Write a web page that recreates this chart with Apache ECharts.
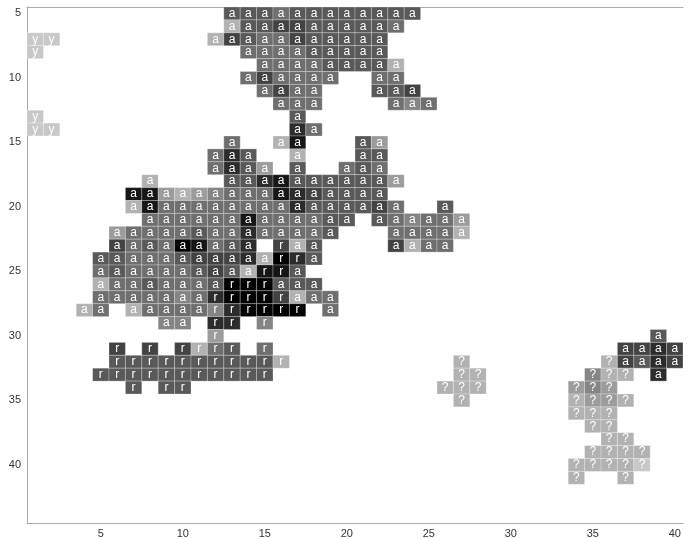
<!DOCTYPE html>
<html>
<head>
<meta charset="utf-8">
<script src="https://cdn.jsdelivr.net/npm/echarts@6.0.0/dist/echarts.min.js"></script>
<style>
html, body { margin: 0; padding: 0; background: #fff; }
#chart { width: 695px; height: 539px; }
</style>
</head>
<body>
<div id="chart"></div>
<script>
// rows start at y = 5, columns are x = 1..40
const firstRow = 5;
const letterRows = [
  '............aaaaaaaaaaaa................',
  '............aaaaaaaaaaa.................',
  'yy.........aaaaaaaaaaa..................',
  'y............aaaaaaaaa..................',
  '..............aaaaaaaaa.................',
  '.............aaaaaa..aa.................',
  '..............aaaa...aaa................',
  '...............aaa....aaa...............',
  'y...............a.......................',
  'yy..............aa......................',
  '............a..aa...aa..................',
  '...........aaa..a...aa..................',
  '...........aaaa.a..aaa..................',
  '.......a....aaaaaaaaaaa.................',
  '......aaaaaaaaaaaaaaaa..................',
  '......aaaaaaaaaaaaaaaaa..a..............',
  '.......aaaaaaaaaaaaa.aaaaaa.............',
  '.....aaaaaaaaaaaaaa...aaaaa.............',
  '.....aaaaaaaaa.raa....aaaa..............',
  '....aaaaaaaaaaarra......................',
  '....aaaaaaaaaarra.......................',
  '....aaaaaaaarrraaa......................',
  '....aaaaaaarrrrraaa.....................',
  '...aa.aaaaarrrrrr.a.....................',
  '........aa.rr.r.........................',
  '...........r..........................a.',
  '.....r.r.rrrr.r.....................aaaa',
  '.....rrrrrrrrrrr..........?........?aaaa',
  '....rrrrrrrrrrr...........??......???.a.',
  '......r.rr...............???.....???....',
  '..........................?......????...',
  '.................................???....',
  '..................................??....',
  '...................................??...',
  '..................................????..',
  '.................................?????..',
  '.................................?..?...'
];
// shade 0 = light grey ... 9 = black
const shadeRows = [
  '............555455555555................',
  '............15566555554.................',
  '00.........16544655555..................',
  '0............444455555..................',
  '..............444455551.................',
  '.............464444..44.................',
  '..............4644...556................',
  '...............444....434...............',
  '0...............5.......................',
  '00..............74......................',
  '............4..18...52..................',
  '...........475..1...55..................',
  '...........4752.5..454..................',
  '.......1....55785555552.................',
  '......8821234448765555..................',
  '......18444444447555564..5..............',
  '.......4444448444455.543442.............',
  '.....24444544744445...44441.............',
  '.....645498457.615....6144..............',
  '....55444566671975......................',
  '....4544445651885.......................',
  '....14454445999555......................',
  '....444443479996144.....................',
  '...14.14444379999.4.....................',
  '........33.77.3.........................',
  '...........2..........................5.',
  '.....6.6.6145.4.....................6676',
  '.....55555555551..........1........16576',
  '....55555555555...........11......311.7.',
  '......5.55...............111.....232....',
  '..........................1......1221...',
  '.................................111....',
  '..................................11....',
  '...................................11...',
  '..................................1111..',
  '.................................11110..',
  '.................................1..1...'
];
const xTicks = [5, 10, 15, 20, 25, 30, 35, 40];
const yTicks = [5, 10, 15, 20, 25, 30, 35, 40];

const cells = [];
letterRows.forEach(function (row, i) {
  for (let c = 0; c < row.length; c++) {
    if (row[c] === '.') continue;
    cells.push([c + 1, firstRow + i, Number(shadeRows[i][c]), row[c]]);
  }
});

function renderItem(params, api) {
  const x = api.value(0);
  const y = api.value(1);
  const p0 = api.coord([x - 0.5, y - 0.5]);
  const p1 = api.coord([x + 0.5, y + 0.5]);
  const left = Math.min(p0[0], p1[0]);
  const top = Math.min(p0[1], p1[1]);
  const w = Math.abs(p1[0] - p0[0]);
  const h = Math.abs(p1[1] - p0[1]);
  return {
    type: 'group',
    children: [
      {
        type: 'rect',
        shape: { x: left, y: top, width: w, height: h },
        style: { fill: api.visual('color'), stroke: 'rgba(255,255,255,0.25)', lineWidth: 1 }
      },
      {
        type: 'text',
        style: {
          text: cells[params.dataIndex][3],
          x: left + w / 2,
          y: top + h / 2,
          fill: '#ffffff',
          font: '12px "Liberation Sans", Arial, sans-serif',
          align: 'center',
          verticalAlign: 'middle'
        }
      }
    ]
  };
}

const axisLabelStyle = { color: '#333', fontSize: 11, fontFamily: '"Liberation Sans", Arial, sans-serif' };

const chart = echarts.init(document.getElementById('chart'));
chart.setOption({
  animation: false,
  grid: { left: 27, right: 12, top: 7, bottom: 14 },
  xAxis: [
    {
      type: 'value', min: 0.5, max: 40.5,
      axisLine: { show: true, onZero: false, lineStyle: { color: '#aaa' } },
      axisTick: { show: false },
      splitLine: { show: false },
      axisLabel: Object.assign({ customValues: xTicks, margin: 5 }, axisLabelStyle)
    },
    {
      type: 'value', position: 'top', min: 0.5, max: 40.5,
      axisLine: { show: true, onZero: false, lineStyle: { color: '#aaa' } },
      axisTick: { show: false },
      splitLine: { show: false },
      axisLabel: { show: false }
    }
  ],
  yAxis: {
    type: 'value', inverse: true, min: 4.5, max: 44.5,
    axisLine: { show: true, onZero: false, lineStyle: { color: '#aaa' } },
    axisTick: { show: false },
    splitLine: { show: false },
    axisLabel: Object.assign({ customValues: yTicks, margin: 6 }, axisLabelStyle)
  },
  visualMap: {
    show: false,
    type: 'continuous',
    seriesIndex: 0,
    dimension: 2,
    min: 0,
    max: 9,
    inRange: { color: ['#c8c8c8', '#000000'] }
  },
  series: [
    {
      type: 'custom',
      renderItem: renderItem,
      encode: { x: 0, y: 1 },
      data: cells
    }
  ]
});
</script>
</body>
</html>
